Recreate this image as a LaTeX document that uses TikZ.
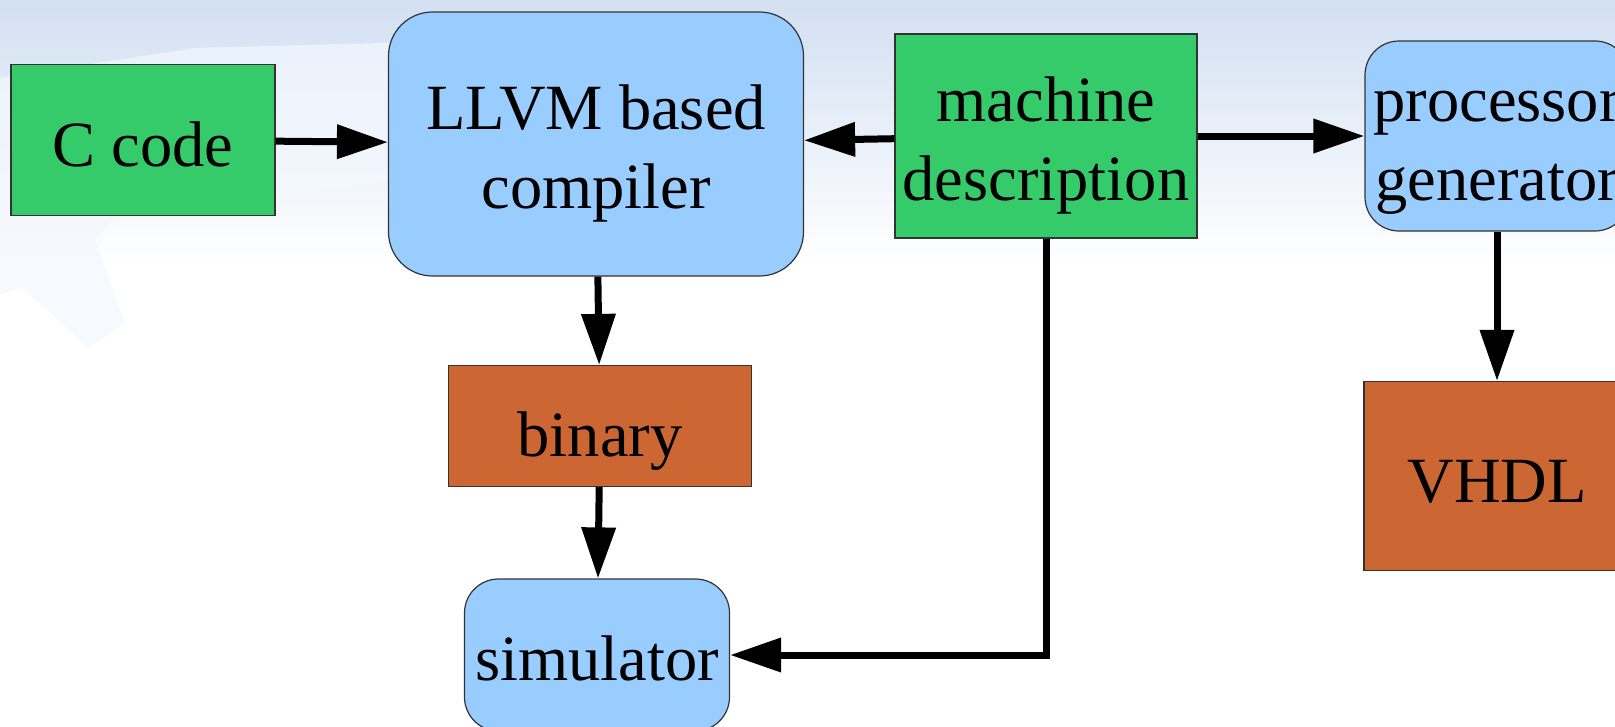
\documentclass[tikz,border=0pt]{standalone}
\usepackage{fontspec}
\setmainfont{Liberation Serif}
\usetikzlibrary{arrows.meta}

\definecolor{srcgreen}{RGB}{54,203,106}
\definecolor{toolblue}{RGB}{153,204,255}
\definecolor{outbrown}{RGB}{204,102,51}
\definecolor{edgegray}{RGB}{51,51,51}
\definecolor{skyblue}{RGB}{210,224,242}
\definecolor{palestar}{RGB}{243,248,254}

% first-line strut, pushes two-line labels down a little
\newcommand{\toprule}{\rule{0pt}{64pt}}

\tikzset{
  box/.style={draw=edgegray, line width=1.2pt, align=center,
    font=\fontsize{64.5}{79}\selectfont},
  oneline/.style={text height=52pt, text depth=0pt},
  srcbox/.style={box, fill=srcgreen},
  toolbox/.style={box, fill=toolblue, rounded corners=34pt},
  outbox/.style={box, fill=outbrown},
  flow/.style={line width=7pt, -{Triangle[length=51pt,width=33pt]}}
}

\begin{document}
\begin{tikzpicture}[x=1pt,y=-1pt]

    \useasboundingbox (0,0) rectangle (1615,726);
    \clip (0,0) rectangle (1615,726);

    % background
    \fill[white] (0,0) rectangle (1615,726);
    \shade[top color=skyblue, bottom color=white] (0,0) rectangle (1615,265);
    \fill[palestar, opacity=0.7] (0,295) -- (22,287) -- (88,348) -- (125,323)
        -- (95,240) -- (115,217) -- (400,180) -- (420,42) -- (195,48) -- (0,78) -- cycle;

    % boxes
    \node[srcbox, oneline, minimum width=264pt, minimum height=151pt] (ccode) at (143,140) {C code};
    \node[toolbox, minimum width=415pt, minimum height=264pt, rounded corners=44pt] (llvm) at (596,144) {\toprule LLVM based\\compiler};
    \node[srcbox, minimum width=302pt, minimum height=204pt] (mdesc) at (1046,136) {\toprule machine\\description};
    \node[toolbox, minimum width=264pt, minimum height=190pt] (procgen) at (1497,136) {\toprule processor\\generator};
    \node[outbox, oneline, text height=60pt, minimum width=303pt, minimum height=121pt] (binary) at (600,426) {binary};
    \node[toolbox, oneline, text height=50pt, minimum width=265pt, minimum height=152pt] (sim) at (597,655) {simulator};
    \node[outbox, oneline, minimum width=266pt, minimum height=189pt] (vhdl) at (1497,476) {VHDL};

    % connections
    \draw[flow] (ccode) -- (llvm);
    \draw[flow] (mdesc) -- (llvm);
    \draw[flow] (mdesc) -- (procgen);
    \draw[flow] (llvm) -- (binary);
    \draw[flow] (binary) -- (sim);
    \draw[flow] (procgen) -- (vhdl);
    \draw[flow] (mdesc.south) |- (sim.east);

\end{tikzpicture}
\end{document}
